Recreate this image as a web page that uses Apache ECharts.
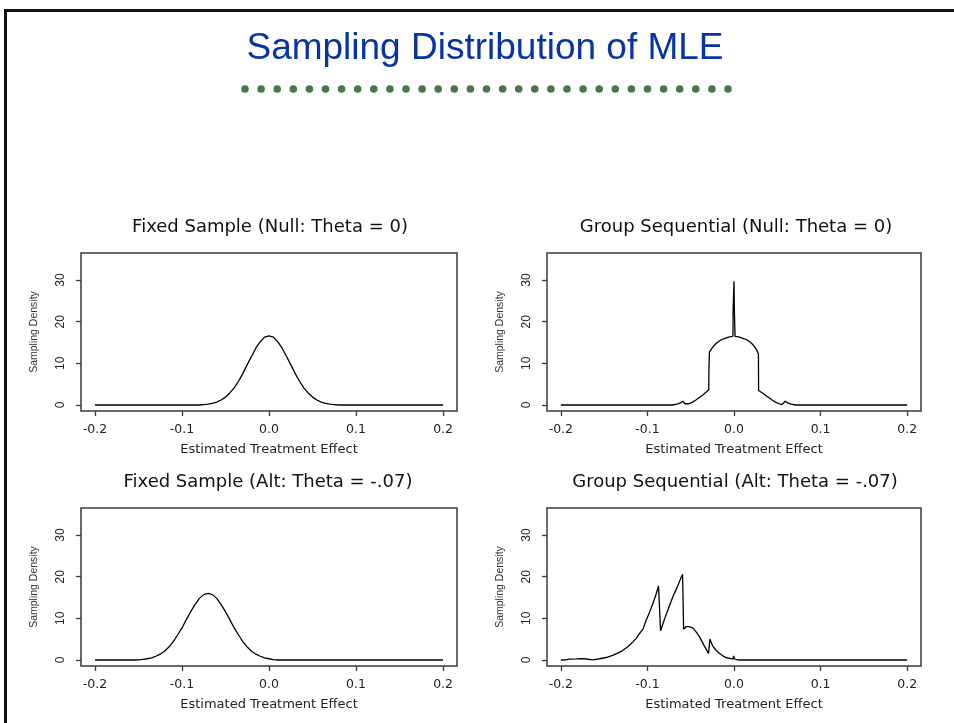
<!DOCTYPE html>
<html>
<head>
<meta charset="utf-8">
<title>Sampling Distribution of MLE</title>
<script src="https://cdn.jsdelivr.net/npm/echarts@6/dist/echarts.min.js"></script>
<style>
    html, body { margin: 0; padding: 0; background: #fff; }
    #chart { width: 954px; height: 723px; }
</style>
</head>
<body>
<div id="chart"></div>
<script>
// Values: [estimate, density]
const fixedNull = [
    [-0.2, 0], [-0.08, 0], [-0.075, 0.1], [-0.07, 0.2], [-0.065, 0.4], [-0.06, 0.7],
    [-0.055, 1.2], [-0.05, 1.9], [-0.045, 2.9], [-0.04, 4.1], [-0.035, 5.7], [-0.03, 7.6],
    [-0.025, 9.7], [-0.02, 11.7], [-0.015, 13.7], [-0.01, 15.2], [-0.005, 16.3], [0, 16.6],
    [0.005, 16.3], [0.01, 15.2], [0.015, 13.7], [0.02, 11.7], [0.025, 9.7], [0.03, 7.6],
    [0.035, 5.7], [0.04, 4.1], [0.045, 2.9], [0.05, 1.9], [0.055, 1.2], [0.06, 0.7],
    [0.065, 0.4], [0.07, 0.2], [0.075, 0.1], [0.08, 0], [0.2, 0]
];

const groupNull = [
    [-0.2, 0], [-0.088, 0], [-0.087, 0.3], [-0.086, 0], [-0.071, 0], [-0.066, 0.2],
    [-0.062, 0.5], [-0.059, 0.9], [-0.0565, 0.3], [-0.0555, 0.1], [-0.052, 0.3], [-0.048, 0.7],
    [-0.044, 1.2], [-0.04, 1.8], [-0.036, 2.4], [-0.032, 3.1], [-0.0292, 3.6], [-0.029, 7.8],
    [-0.0286, 7.8], [-0.0284, 12.7], [-0.026, 13.5], [-0.023, 14.3], [-0.02, 14.9], [-0.016, 15.5],
    [-0.012, 15.9], [-0.008, 16.2], [-0.004, 16.4], [-0.0012, 16.5], [-0.001, 23], [-0.0004, 23],
    [0, 29.7], [0.0004, 23], [0.001, 23], [0.0012, 16.5], [0.004, 16.4], [0.008, 16.2],
    [0.012, 15.9], [0.016, 15.5], [0.02, 14.9], [0.023, 14.2], [0.026, 13.3], [0.0282, 12.3],
    [0.0284, 3.5], [0.032, 3.0], [0.036, 2.4], [0.04, 1.8], [0.044, 1.2], [0.048, 0.7],
    [0.052, 0.3], [0.0555, 0.1], [0.0565, 0.3], [0.059, 0.9], [0.062, 0.5], [0.066, 0.2],
    [0.071, 0], [0.086, 0], [0.087, 0.3], [0.088, 0], [0.2, 0]
];

const fixedAlt = [
    [-0.2, 0], [-0.155, 0], [-0.15, 0.05], [-0.145, 0.15], [-0.14, 0.3], [-0.135, 0.5],
    [-0.13, 0.9], [-0.125, 1.4], [-0.12, 2.1], [-0.115, 3.1], [-0.11, 4.4], [-0.105, 6.0],
    [-0.1, 7.7], [-0.095, 9.7], [-0.09, 11.6], [-0.085, 13.3], [-0.08, 14.8], [-0.075, 15.7],
    [-0.07, 16.0], [-0.065, 15.7], [-0.06, 14.8], [-0.055, 13.3], [-0.05, 11.6], [-0.045, 9.7],
    [-0.04, 7.7], [-0.035, 6.0], [-0.03, 4.4], [-0.025, 3.1], [-0.02, 2.1], [-0.015, 1.4],
    [-0.01, 0.9], [-0.005, 0.5], [0, 0.3], [0.005, 0.1], [0.01, 0], [0.2, 0]
];

const groupAlt = [
    [-0.2, 0], [-0.195, 0.05], [-0.19, 0.2], [-0.182, 0.25], [-0.177, 0.35], [-0.173, 0.3],
    [-0.172, 0], [-0.163, 0.05], [-0.155, 0.3], [-0.148, 0.6], [-0.14, 1.1], [-0.135, 1.6],
    [-0.129, 2.2], [-0.122, 3.3], [-0.117, 4.3], [-0.113, 5.2], [-0.109, 6.4], [-0.105, 7.5],
    [-0.1017, 9.4], [-0.098, 11.2], [-0.094, 13.4], [-0.0905, 15.5], [-0.0883, 17.0], [-0.0872, 17.8],
    [-0.0848, 7.0], [-0.08, 10.0], [-0.075, 12.8], [-0.07, 15.5], [-0.065, 17.8], [-0.0615, 19.6],
    [-0.0594, 20.6], [-0.0582, 7.4], [-0.0555, 8.0], [-0.052, 8.0], [-0.0478, 7.7], [-0.044, 6.8],
    [-0.04, 5.6], [-0.0343, 3.4], [-0.0294, 1.6], [-0.0278, 5.0], [-0.0247, 3.4], [-0.021, 2.4],
    [-0.017, 1.6], [-0.013, 1.0], [-0.0093, 0.6], [-0.004, 0.35], [-0.001, 0.3], [-0.0005, 1.0],
    [0.0005, 0.3], [0.003, 0.1], [0.006, 0], [0.2, 0]
];

const panelTitles = [
    'Fixed Sample (Null: Theta = 0)',
    'Group Sequential (Null: Theta = 0)',
    'Fixed Sample (Alt: Theta = -.07)',
    'Group Sequential (Alt: Theta = -.07)'
];
const panelData = [fixedNull, groupNull, fixedAlt, groupAlt];

const xTicks = [-0.2, -0.1, 0, 0.1, 0.2];
const yTicks = [0, 10, 20, 30];
const xLimits = [-0.216, 0.216];
const yLimits = [-1.44, 36.5];

const xAxisName = 'Estimated Treatment Effect';
const yAxisName = 'Sampling Density';
const mainTitle = 'Sampling Distribution of MLE';

// Plot boxes (left, top, width, height) and title centres
const boxes = [
    { left: 81, top: 253, width: 376, height: 158, titleX: 270, titleTop: 218 },
    { left: 547, top: 253, width: 374, height: 158, titleX: 736, titleTop: 218 },
    { left: 81, top: 508, width: 376, height: 158, titleX: 268, titleTop: 473 },
    { left: 547, top: 508, width: 374, height: 158, titleX: 735, titleTop: 473 }
];

const WIDE_FONT = 'DejaVu Sans';

document.addEventListener('DOMContentLoaded', function() {
    const chart = echarts.init(document.getElementById('chart'), null, { renderer: 'canvas' });
    chart.setOption(buildOption());
});

// Build the whole option
function buildOption() {
    const grids = [], xAxes = [], yAxes = [], series = [];
    const titles = [{
        text: mainTitle,
        left: 485,
        top: 30,
        textAlign: 'center',
        padding: 0,
        textStyle: { fontFamily: 'Liberation Sans', fontSize: 37, fontWeight: 'normal', color: '#0634a0' }
    }];

    boxes.forEach((b, i) => {
        grids.push({
            left: b.left, top: b.top, width: b.width, height: b.height,
            show: true, borderColor: '#3a3a3a', borderWidth: 1.5, backgroundColor: 'transparent'
        });
        titles.push({
            text: panelTitles[i],
            left: b.titleX,
            top: b.titleTop,
            textAlign: 'center',
            padding: 0,
            textStyle: { fontFamily: WIDE_FONT, fontSize: 18, fontWeight: 'normal', color: '#111' }
        });
        xAxes.push({
            gridIndex: i,
            type: 'value',
            min: xLimits[0],
            max: xLimits[1],
            name: xAxisName,
            nameLocation: 'middle',
            nameGap: 32,
            nameTextStyle: { fontFamily: WIDE_FONT, fontSize: 13, color: '#222' },
            axisLine: { show: false, onZero: false },
            axisTick: { show: true, length: 5, customValues: xTicks, lineStyle: { color: '#3a3a3a', width: 1.3 } },
            axisLabel: {
                customValues: xTicks,
                margin: 12,
                fontFamily: WIDE_FONT,
                fontSize: 12.5,
                color: '#222',
                formatter: v => v.toFixed(1)
            },
            splitLine: { show: false }
        });
        yAxes.push({
            gridIndex: i,
            type: 'value',
            min: yLimits[0],
            max: yLimits[1],
            name: yAxisName,
            nameLocation: 'middle',
            nameGap: 41,
            nameTextStyle: { fontFamily: 'Liberation Sans', fontSize: 10.5, color: '#333' },
            axisLine: { show: false, onZero: false },
            axisTick: { show: true, length: 5, customValues: yTicks, lineStyle: { color: '#3a3a3a', width: 1.3 } },
            axisLabel: {
                customValues: yTicks,
                rotate: 90,
                margin: 14,
                fontFamily: 'Liberation Sans',
                fontSize: 12,
                color: '#222'
            },
            splitLine: { show: false }
        });
        series.push({
            type: 'line',
            xAxisIndex: i,
            yAxisIndex: i,
            data: panelData[i],
            showSymbol: false,
            symbol: 'none',
            lineStyle: { color: '#000', width: 1.3 },
            silent: true
        });
    });

    return {
        animation: false,
        backgroundColor: '#fff',
        title: titles,
        grid: grids,
        xAxis: xAxes,
        yAxis: yAxes,
        series: series,
        graphic: buildDecorations()
    };
}

// Slide frame and the green dotted rule under the title
function buildDecorations() {
    const items = [
        { type: 'rect', shape: { x: 5, y: 9, width: 949, height: 3 }, style: { fill: '#111' } },
        { type: 'rect', shape: { x: 4, y: 9, width: 3, height: 714 }, style: { fill: '#111' } }
    ];
    const dotCount = 31;
    const startX = 245, endX = 728;
    const step = (endX - startX) / (dotCount - 1);
    for (let k = 0; k < dotCount; k++) {
        items.push({
            type: 'circle',
            shape: { cx: startX + k * step, cy: 89, r: 3.8 },
            style: { fill: '#467a42' }
        });
    }
    return items;
}
</script>
</body>
</html>
